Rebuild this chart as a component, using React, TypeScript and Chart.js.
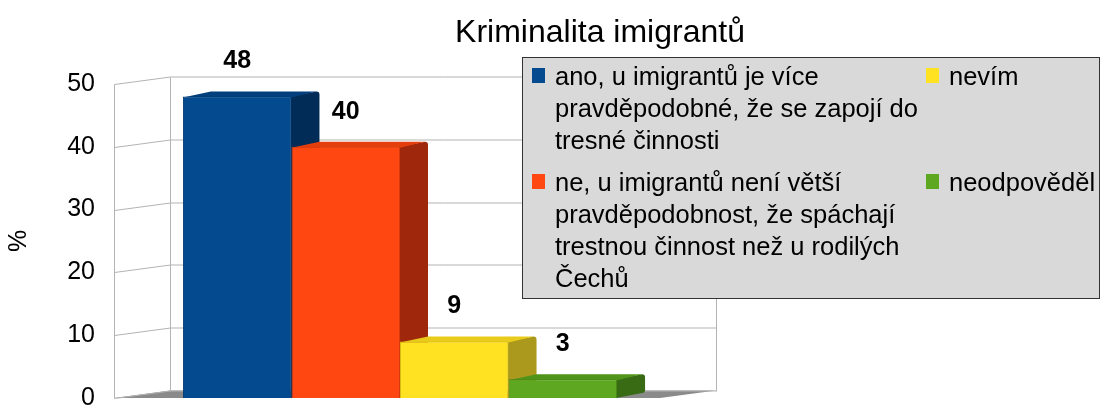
import React, { useEffect, useRef } from 'react';
import { Chart, registerables } from 'chart.js';

Chart.register(...registerables);

const TITLE = 'Kriminalita imigrantů';
const Y_AXIS_LABEL = '%';
const CATEGORIES = [''];
const SERIES_NAMES = [
  'ano, u imigrantů je více pravděpodobné, že se zapojí do tresné činnosti',
  'ne, u imigrantů není větší pravděpodobnost, že spáchají trestnou činnost než u rodilých Čechů',
  'nevím',
  'neodpověděl',
];
const LEGEND_LINES = [
  ['ano, u imigrantů je více', 'pravděpodobné, že se zapojí do', 'tresné činnosti'],
  ['ne, u imigrantů není větší', 'pravděpodobnost, že spáchají', 'trestnou činnost než u rodilých', 'Čechů'],
  ['nevím'],
  ['neodpověděl'],
];
const VALUES = [48, 40, 9, 3];
const Y_MIN = 0;
const Y_MAX = 50;
const Y_STEP = 10;

const FRONT_COLORS = ['#034a8f', '#ff4712', '#ffe221', '#5ea721'];
const BORDER_COLORS = ['#023a72', '#d63a0c', '#d8bc16', '#4a8a18'];
const SIDE_COLORS = ['#022c58', '#9f270b', '#aa991c', '#386b13'];
const TOP_COLORS = ['#023f7c', '#e43e0d', '#e9cb1c', '#509419'];

const FONT = '"Liberation Sans", Arial, sans-serif';

const W = 1101;
const H = 407;

// 3D geometry
const WALL_DX = 56;
const WALL_DY = -7.5;
const BAR_DX = 28;
const BAR_DY = -5;

const scenePlugin = {
  id: 'scene3d',
  beforeDatasetsDraw(chart: any) {
    const ctx = chart.ctx;
    const area = chart.chartArea;
    const yS = chart.scales.y;
    const L = area.left;
    const R = area.right - 26;
    const y0 = yS.getPixelForValue(Y_MIN);
    const yTop = yS.getPixelForValue(Y_MAX);
    ctx.save();
    // floor
    ctx.fillStyle = '#8a8a8a';
    ctx.beginPath();
    ctx.moveTo(L, y0);
    ctx.lineTo(L + WALL_DX, y0 + WALL_DY);
    ctx.lineTo(R + WALL_DX, y0 + WALL_DY);
    ctx.lineTo(R, y0);
    ctx.closePath();
    ctx.fill();
    // grid lines
    ctx.strokeStyle = '#b3b3b3';
    ctx.lineWidth = 1;
    for (let v = Y_MIN; v <= Y_MAX; v += Y_STEP) {
      const yf = Math.round(yS.getPixelForValue(v)) + 0.5;
      ctx.beginPath();
      ctx.moveTo(L + 0.5, yf);
      ctx.lineTo(L + WALL_DX + 0.5, yf + WALL_DY);
      ctx.lineTo(R + WALL_DX + 0.5, yf + WALL_DY);
      ctx.stroke();
    }
    ctx.beginPath();
    ctx.moveTo(L + 0.5, Math.round(yTop) + 0.5);
    ctx.lineTo(L + 0.5, Math.round(y0) + 0.5);
    ctx.moveTo(L + WALL_DX + 0.5, Math.round(yTop + WALL_DY) + 0.5);
    ctx.lineTo(L + WALL_DX + 0.5, Math.round(y0 + WALL_DY) + 0.5);
    ctx.moveTo(R + WALL_DX + 0.5, Math.round(yTop + WALL_DY) + 0.5);
    ctx.lineTo(R + WALL_DX + 0.5, Math.round(y0 + WALL_DY) + 0.5);
    ctx.stroke();

    // bar side & top faces
    const bars: any[] = [];
    chart.data.datasets.forEach((ds: any, i: number) => {
      const meta = chart.getDatasetMeta(i);
      meta.data.forEach((el: any) => {
        const p = el.getProps(['x', 'y', 'width', 'base'], true);
        bars.push({ i, ...p });
      });
    });
    bars.forEach((b) => {
      const right = b.x + b.width / 2;
      ctx.fillStyle = SIDE_COLORS[b.i];
      ctx.beginPath();
      ctx.moveTo(right - 1, b.y);
      ctx.lineTo(right + BAR_DX - 3, b.y + BAR_DY);
      ctx.quadraticCurveTo(right + BAR_DX, b.y + BAR_DY, right + BAR_DX, b.y + BAR_DY + 3);
      ctx.lineTo(right + BAR_DX, b.base + BAR_DY - 3);
      ctx.quadraticCurveTo(right + BAR_DX, b.base + BAR_DY, right + BAR_DX - 3, b.base + BAR_DY);
      ctx.lineTo(right - 1, b.base);
      ctx.closePath();
      ctx.fill();
    });
    bars.forEach((b) => {
      const left = b.x - b.width / 2;
      const right = b.x + b.width / 2;
      ctx.fillStyle = TOP_COLORS[b.i];
      ctx.beginPath();
      ctx.moveTo(left, b.y + 1);
      ctx.lineTo(left + BAR_DX, b.y + BAR_DY);
      ctx.lineTo(right + BAR_DX - 3, b.y + BAR_DY);
      ctx.lineTo(right, b.y + 1);
      ctx.closePath();
      ctx.fill();
    });
    ctx.restore();
  },
  afterDatasetsDraw(chart: any) {
    const ctx = chart.ctx;
    ctx.save();
    ctx.fillStyle = '#000';
    ctx.font = `bold 25px ${FONT}`;
    ctx.textAlign = 'center';
    ctx.textBaseline = 'middle';
    chart.data.datasets.forEach((ds: any, i: number) => {
      const meta = chart.getDatasetMeta(i);
      meta.data.forEach((el: any, j: number) => {
        const p = el.getProps(['x', 'y'], true);
        ctx.fillText(String(ds.data[j]), p.x, p.y - 35);
      });
    });
    ctx.restore();
  },
  afterDraw(chart: any) {
    const ctx = chart.ctx;
    ctx.save();
    // title
    ctx.fillStyle = '#000';
    ctx.font = `32px ${FONT}`;
    ctx.textAlign = 'center';
    ctx.textBaseline = 'alphabetic';
    ctx.fillText(TITLE, 600, 42);

    // legend box
    const bx = 522, by = 57, bw = 578, bh = 242;
    ctx.fillStyle = '#d9d9d9';
    ctx.fillRect(bx, by, bw, bh);
    ctx.strokeStyle = '#333333';
    ctx.lineWidth = 1;
    ctx.strokeRect(bx + 0.5, by + 0.5, bw - 1, bh - 1);

    const colX = [532, 926];
    const rowBase = [85, 191];
    const lineH = 32;
    const order = [
      { idx: 0, col: 0, row: 0 },
      { idx: 1, col: 0, row: 1 },
      { idx: 2, col: 1, row: 0 },
      { idx: 3, col: 1, row: 1 },
    ];
    ctx.font = `25.5px ${FONT}`;
    ctx.textAlign = 'left';
    order.forEach((o) => {
      const x = colX[o.col];
      const base = rowBase[o.row];
      ctx.fillStyle = FRONT_COLORS[o.idx];
      ctx.fillRect(x, base - 17, 13, 15);
      ctx.fillStyle = '#000';
      LEGEND_LINES[o.idx].forEach((line, k) => {
        ctx.fillText(line, x + 23, base + k * lineH);
      });
    });
    ctx.restore();
  },
};

export default function App() {
  const ref = useRef<HTMLCanvasElement | null>(null);
  useEffect(() => {
    if (!ref.current) return;
    const chart = new Chart(ref.current, {
      type: 'bar',
      data: {
        labels: CATEGORIES,
        datasets: VALUES.map((v, i) => ({
          label: SERIES_NAMES[i],
          data: [v],
          backgroundColor: FRONT_COLORS[i],
          borderColor: BORDER_COLORS[i],
          borderWidth: 1,
          categoryPercentage: 0.759,
          barPercentage: 1,
        })),
      },
      options: {
        responsive: false,
        animation: false,
        devicePixelRatio: 1,
        layout: { padding: { left: 0, top: 84, right: W - 686, bottom: H - 398 } },
        plugins: {
          legend: { display: false },
          title: { display: false },
          tooltip: { enabled: false },
        },
        scales: {
          x: { display: false },
          y: {
            min: Y_MIN,
            max: Y_MAX,
            ticks: {
              stepSize: Y_STEP,
              color: '#000',
              font: { family: FONT, size: 25 },
              padding: 19,
            },
            grid: { display: false, drawTicks: false },
            border: { display: false },
            title: {
              display: true,
              text: Y_AXIS_LABEL,
              color: '#000',
              font: { family: FONT, size: 25 },
              padding: { top: 4, bottom: 4 },
            },
            afterFit: (scale: any) => {
              scale.width = 114;
              scale.paddingTop = 0;
              scale.paddingBottom = 0;
            },
          },
        },
      },
      plugins: [scenePlugin],
    } as any);
    return () => chart.destroy();
  }, []);
  return (
    <div style={{ position: 'fixed', left: 0, top: 0, width: W, height: H, background: '#fff' }}>
      <canvas ref={ref} width={W} height={H} style={{ display: 'block' }} />
    </div>
  );
}
